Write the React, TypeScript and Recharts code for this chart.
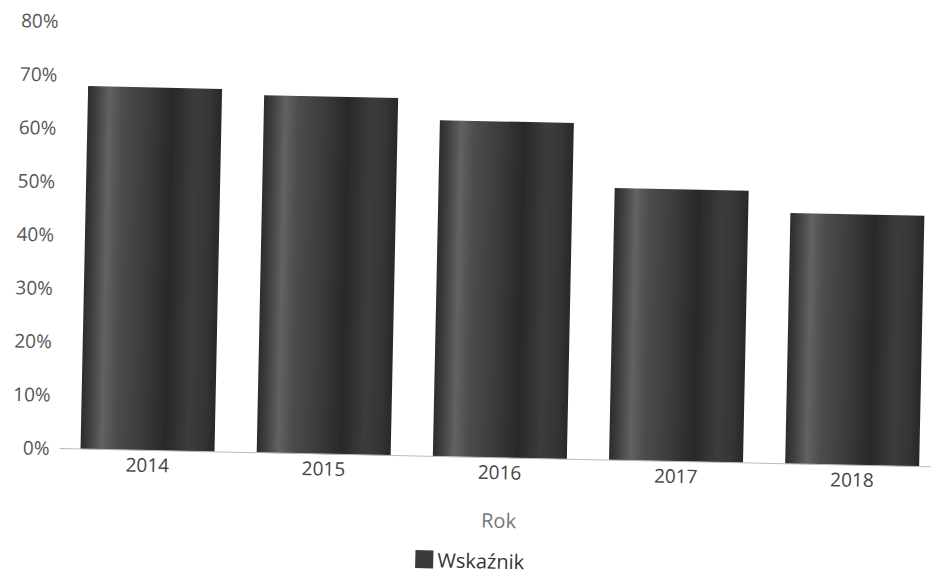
import React from 'react';
import { BarChart, Bar, XAxis, YAxis } from 'recharts';

const years = ['2014', '2015', '2016', '2017', '2018'];
const values = [68, 67, 63, 51, 47];
const yTicks = [0, 10, 20, 30, 40, 50, 60, 70, 80];
const seriesName = 'Wskaźnik';
const axisTitle = 'Rok';

const data = years.map((y, i) => ({ year: y, value: values[i] }));

const font = '"Open Sans", sans-serif';

export default function App() {
  return (
    <div style={{ position: 'absolute', left: 0, top: 0, width: 931, height: 574, background: '#fff', transform: 'rotate(1.2deg)', transformOrigin: '50% 50%' }}>
      <BarChart width={944} height={574} data={data} margin={{ top: 30, right: 0, bottom: 42, left: 3 }} barSize={134}>
        <defs>
          <linearGradient id="cyl" x1="0" y1="0" x2="1" y2="0">
            <stop offset="0%" stopColor="#2c2c2c" />
            <stop offset="6%" stopColor="#3e3e3e" />
            <stop offset="16%" stopColor="#626262" />
            <stop offset="26%" stopColor="#4c4c4c" />
            <stop offset="45%" stopColor="#3c3c3c" />
            <stop offset="63%" stopColor="#282828" />
            <stop offset="80%" stopColor="#3c3c3c" />
            <stop offset="91%" stopColor="#363636" />
            <stop offset="100%" stopColor="#282828" />
          </linearGradient>
        </defs>
        <YAxis
          width={60}
          domain={[0, 80]}
          ticks={yTicks}
          interval={0}
          tickFormatter={(v) => `${v}%`}
          axisLine={false}
          tickLine={false}
          tickMargin={4}
          tick={{ fill: '#555', fontSize: 19, fontFamily: font }}
        />
        <XAxis
          dataKey="year"
          height={75}
          tickLine={false}
          axisLine={{ stroke: '#bbb' }}
          tick={{ fill: '#444', fontSize: 19, fontFamily: font }}
          label={{ value: axisTitle, position: 'insideBottom', offset: 5, fill: '#777', fontSize: 20, fontFamily: font }}
        />
        <Bar dataKey="value" name={seriesName} fill="url(#cyl)" isAnimationActive={false} />
      </BarChart>
      <div style={{ position: 'absolute', left: 10, top: 547, width: 931, height: 26, display: 'flex', justifyContent: 'center', alignItems: 'center', fontFamily: font, fontSize: 20, color: '#333' }}>
        <span style={{ display: 'inline-block', width: 18, height: 18, background: '#3a3a3a', marginRight: 4 }} />
        <span>{seriesName}</span>
      </div>
    </div>
  );
}
